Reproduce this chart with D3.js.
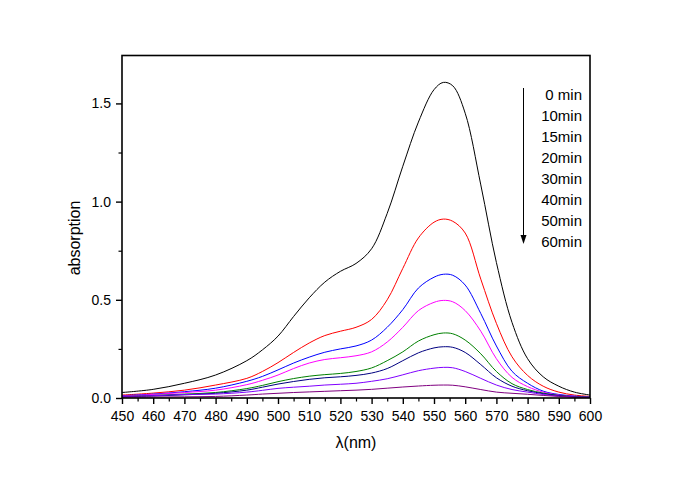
<!DOCTYPE html>
<html><head><meta charset="utf-8">
<script src="https://cdn.jsdelivr.net/npm/d3@7"></script>
<style>body{margin:0;background:#fff}svg{display:block}text{font-family:"Liberation Sans",Arial,sans-serif;fill:#000}</style>
</head><body><svg id="c" width="685" height="478"></svg>
<script>
const wavelengths = [450,460,470,480,490,495,500,505,510,515,520,525,530,535,540,545,550,553,556,560,565,570,575,580,585,590,595,600];
const s0  = [0.028,0.044,0.075,0.117,0.19,0.245,0.315,0.415,0.51,0.59,0.645,0.685,0.76,0.94,1.18,1.405,1.57,1.607,1.59,1.45,1.085,0.69,0.385,0.20,0.108,0.06,0.03,0.015];
const s10 = [0.015,0.025,0.04,0.066,0.10,0.135,0.18,0.232,0.28,0.318,0.34,0.36,0.40,0.50,0.66,0.815,0.895,0.911,0.90,0.84,0.605,0.38,0.21,0.115,0.06,0.03,0.015,0.008];
const s15 = [0.012,0.02,0.032,0.05,0.085,0.11,0.143,0.178,0.208,0.233,0.25,0.265,0.295,0.36,0.45,0.56,0.615,0.630,0.625,0.575,0.43,0.265,0.136,0.075,0.035,0.018,0.01,0.005];
const s20 = [0.01,0.018,0.028,0.04,0.068,0.09,0.117,0.15,0.178,0.196,0.205,0.215,0.235,0.285,0.36,0.445,0.487,0.497,0.49,0.445,0.34,0.20,0.105,0.058,0.03,0.015,0.008,0.004];
const s30 = [0.008,0.013,0.02,0.028,0.048,0.064,0.083,0.099,0.111,0.119,0.125,0.135,0.153,0.19,0.235,0.29,0.322,0.331,0.327,0.295,0.225,0.135,0.073,0.043,0.025,0.013,0.007,0.004];
const s40 = [0.006,0.01,0.016,0.024,0.04,0.055,0.071,0.084,0.095,0.103,0.108,0.115,0.127,0.15,0.19,0.23,0.255,0.261,0.258,0.232,0.17,0.103,0.06,0.037,0.022,0.012,0.006,0.003];
const s50 = [0.008,0.012,0.018,0.02,0.03,0.039,0.049,0.055,0.06,0.066,0.07,0.075,0.085,0.098,0.118,0.139,0.152,0.156,0.154,0.135,0.10,0.066,0.043,0.03,0.018,0.01,0.005,0.003];
const s60 = [0.004,0.005,0.006,0.008,0.015,0.02,0.024,0.028,0.031,0.034,0.037,0.04,0.044,0.05,0.056,0.061,0.065,0.066,0.065,0.057,0.043,0.03,0.024,0.019,0.013,0.008,0.004,0.002];
const seriesValues = [s0,s10,s15,s20,s30,s40,s50,s60];
const seriesColors = ["#000000","#ff0000","#0000ff","#ff00ff","#008000","#000080","#8000ff","#800080"];
const legendLabels = ["0 min","10min","15min","20min","30min","40min","50min","60min"];
const xTicks = [450,460,470,480,490,500,510,520,530,540,550,560,570,580,590,600];
const yTicks = [0.0,0.5,1.0,1.5];

const svg = d3.select("#c");
const L=122, R=590, T=55.5, B=398;
const x = d3.scaleLinear().domain([450,600]).range([L,R]);
const y = d3.scaleLinear().domain([0,1.744]).range([B,T]);

svg.append("defs").append("clipPath").attr("id","clip").append("rect")
  .attr("x",L).attr("y",T).attr("width",R-L).attr("height",B-T);

const line = d3.line().x(d=>x(d[0])).y(d=>y(d[1])).curve(d3.curveCatmullRom.alpha(0.5));
const g = svg.append("g").attr("clip-path","url(#clip)");
seriesValues.forEach((vals,i)=>{
  g.append("path").datum(wavelengths.map((w,j)=>[w,vals[j]]))
   .attr("d",line).attr("fill","none").attr("stroke",seriesColors[i]).attr("stroke-width",1);
});

// frame
svg.append("rect").attr("x",L).attr("y",T).attr("width",R-L).attr("height",B-T)
  .attr("fill","none").attr("stroke","#000").attr("stroke-width",1.6);

// x axis
const xMinor = d3.range(455,600,10);
const xa = svg.append("g").attr("transform",`translate(0,${B})`)
  .call(d3.axisBottom(x).tickValues(xTicks).tickFormat(d3.format("d")).tickSize(6).tickPadding(4));
xa.select(".domain").remove();
xa.selectAll("line").attr("stroke-width",1.4);
xa.selectAll("text").attr("font-size","14px").attr("fill","#000").attr("dy","0.95em");
svg.append("g").attr("transform",`translate(0,${B})`)
  .call(d3.axisBottom(x).tickValues(xMinor).tickFormat("").tickSize(3.5))
  .call(a=>{a.select(".domain").remove();a.selectAll("line").attr("stroke-width",1.2);});

// y axis
const ya = svg.append("g").attr("transform",`translate(${L},0)`)
  .call(d3.axisLeft(y).tickValues(yTicks).tickFormat(d3.format(".1f")).tickSize(6).tickPadding(5));
ya.select(".domain").remove();
ya.selectAll("line").attr("stroke-width",1.4);
ya.selectAll("text").attr("font-size","14px").attr("fill","#000");
svg.append("g").attr("transform",`translate(${L},0)`)
  .call(d3.axisLeft(y).tickValues([0.25,0.75,1.25]).tickFormat("").tickSize(3.5))
  .call(a=>{a.select(".domain").remove();a.selectAll("line").attr("stroke-width",1.2);});

// axis titles
svg.append("text").attr("x",(L+R)/2).attr("y",448).attr("text-anchor","middle")
  .attr("font-size","16px").text("λ(nm)");
svg.append("text").attr("transform","translate(80,238) rotate(-90)").attr("text-anchor","middle")
  .attr("font-size","16px").text("absorption");

// legend
const lg = svg.append("g");
legendLabels.forEach((t,i)=>{
  lg.append("text").attr("x",582).attr("y",95+i*20.9).attr("dy","0.35em").attr("text-anchor","end")
    .attr("font-size","15px").text(t);
});
lg.append("line").attr("x1",523.5).attr("x2",523.5).attr("y1",88).attr("y2",237).attr("stroke","#000").attr("stroke-width",1);
lg.append("path").attr("d","M520.5,235 L526.5,235 L523.5,244 Z").attr("fill","#000");
</script></body></html>
